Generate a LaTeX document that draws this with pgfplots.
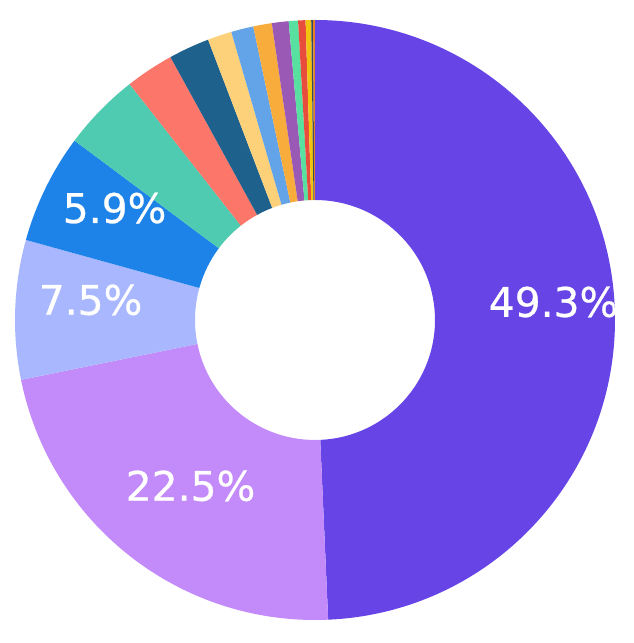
\documentclass[border=0pt]{standalone}
\usepackage{pgfplots}
\pgfplotsset{compat=1.18}
\usepackage{pgfplotstable}
\usepackage{fontspec}
\setmainfont{DejaVu Sans}
\newfontfamily\lblfont{DejaVu Sans}[FakeBold=0.6]

\definecolor{s1}{HTML}{6644E6}
\definecolor{s2}{HTML}{C38BFA}
\definecolor{s3}{HTML}{A9B8FE}
\definecolor{s4}{HTML}{1E83E8}
\definecolor{s5}{HTML}{4ECBB0}
\definecolor{s6}{HTML}{FC766A}
\definecolor{s7}{HTML}{1F618D}
\definecolor{s8}{HTML}{FDD17A}
\definecolor{s9}{HTML}{63A4E9}
\definecolor{s10}{HTML}{F8AC3B}
\definecolor{s11}{HTML}{9B59B6}
\definecolor{s12}{HTML}{58E0A0}
\definecolor{s13}{HTML}{E74C3C}
\definecolor{s14}{HTML}{F1C40F}
\definecolor{s15}{HTML}{34495E}
\definecolor{s16}{HTML}{E67E22}

% share of each slice, clockwise from 12 o'clock
\pgfplotstableread{
value color
49.3 s1
22.5 s2
7.5  s3
5.9  s4
4.2  s5
2.6  s6
2.2  s7
1.3  s8
1.2  s9
1.0  s10
0.9  s11
0.5  s12
0.4  s13
0.3  s14
0.1  s15
0.1  s16
}\piedata

\def\rout{3cm}
\def\rin{1.2cm}

\begin{document}
\begin{tikzpicture}
\begin{axis}[
    x=3cm, y=3cm,
    xmin=-1.05, xmax=1.0633,
    ymin=-1.0767, ymax=1.0667,
    hide axis, clip=false,
]
\pgfplotsextra{
  \path (axis cs:-1.05,-1.0767) rectangle (axis cs:1.0633,1.0667);
  \pgfplotstablegetrowsof{\piedata}
  \pgfmathtruncatemacro\nrows{\pgfplotsretval-1}
  \xdef\cum{0}
  \foreach \i in {0,...,\nrows}{
    \pgfplotstablegetelem{\i}{value}\of\piedata \let\v\pgfplotsretval
    \pgfplotstablegetelem{\i}{color}\of\piedata \let\slicecol\pgfplotsretval
    \pgfmathsetmacro\aone{90-\cum*3.6}
    \pgfmathsetmacro\atwo{90-(\cum+\v)*3.6}
    \fill[\slicecol] ([shift={(\aone:\rin)}]axis cs:0,0)
      -- ([shift={(\aone:\rout)}]axis cs:0,0)
      arc[start angle=\aone, end angle=\atwo, radius=\rout]
      -- ([shift={(\atwo:\rin)}]axis cs:0,0)
      arc[start angle=\atwo, end angle=\aone, radius=\rin] -- cycle;
    \pgfmathsetmacro\newcum{\cum+\v}
    \xdef\cum{\newcum}
  }
  \begin{scope}
    \clip (axis cs:0,0) circle[radius=\rout];
    \tikzset{lbl/.style={white, anchor=west, inner sep=0pt, font=\lblfont\fontsize{11.6}{13}\selectfont}}
    \node[lbl] at (axis cs:0.577,0.06) {49.3\%};
    \node[lbl] at (axis cs:-0.633,-0.553) {22.5\%};
    \node[lbl] at (axis cs:-0.923,0.067) {7.5\%};
    \node[lbl] at (axis cs:-0.843,0.373) {5.9\%};
  \end{scope}
}
\end{axis}
\end{tikzpicture}
\end{document}
